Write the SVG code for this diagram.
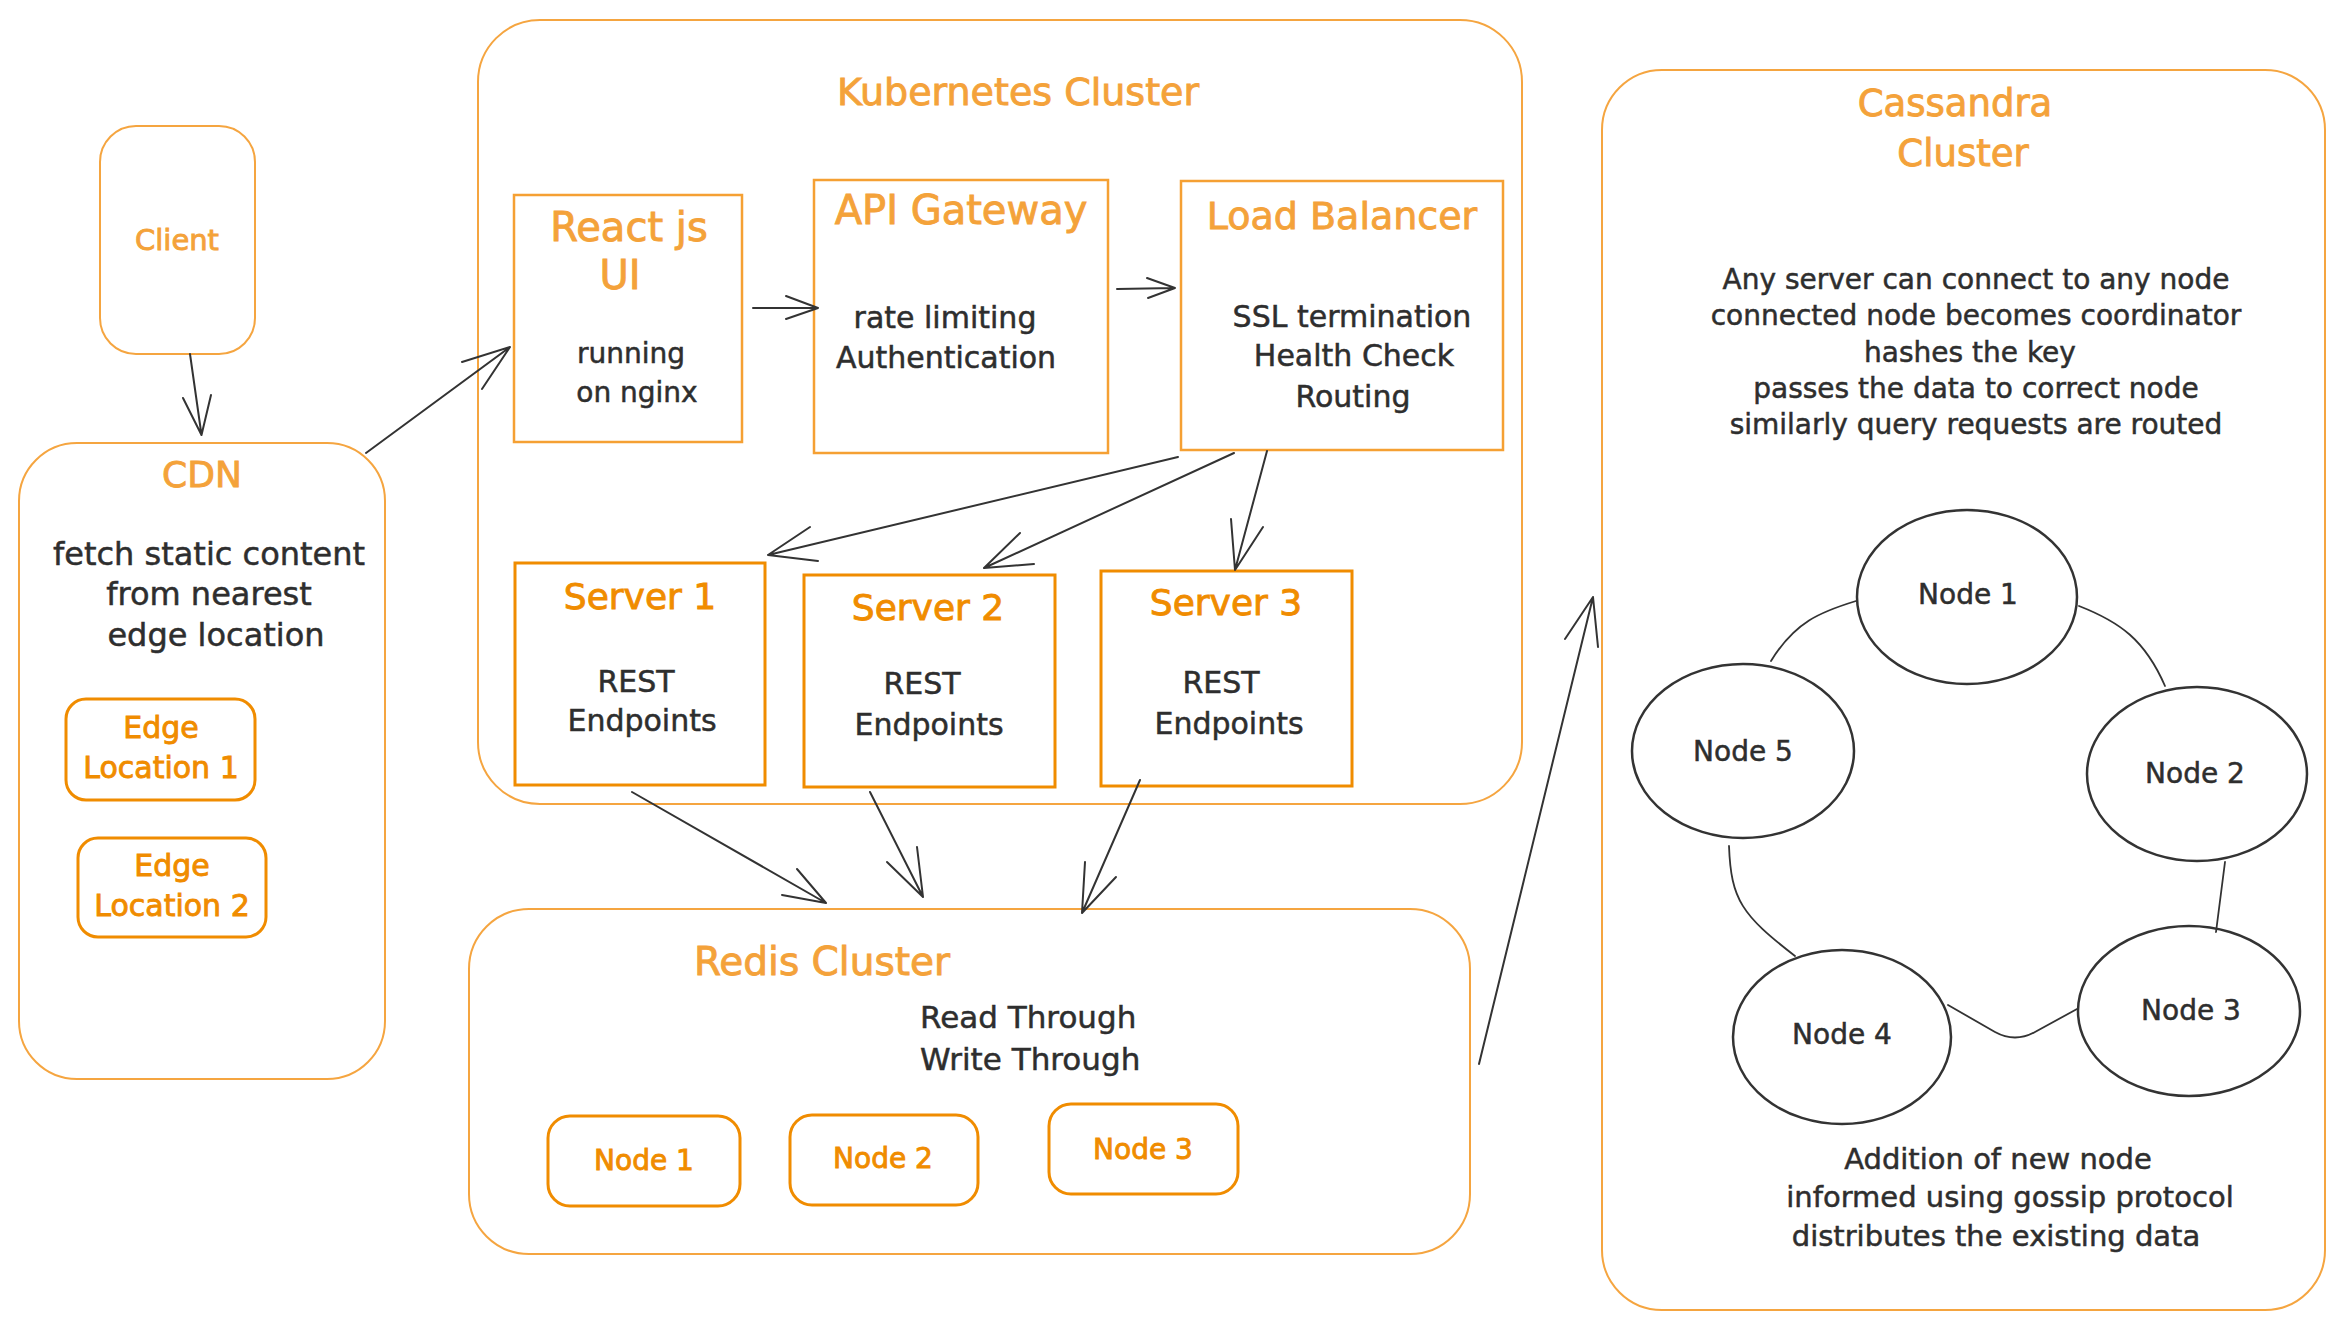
<svg xmlns="http://www.w3.org/2000/svg" width="2344" height="1328" viewBox="0 0 2344 1328">
<style>
  .bg{fill:#ffffff}
  .cont{fill:none;stroke:#f5a540;stroke-width:2}
  .box{fill:none;stroke:#f5a033;stroke-width:2.5}
  .dbox{fill:none;stroke:#f08c00;stroke-width:3}
  .ell{fill:none;stroke:#333333;stroke-width:2.5}
  .conn{fill:none;stroke:#333333;stroke-width:2;stroke-linecap:round;stroke-linejoin:round}
  .link{fill:none;stroke:#333333;stroke-width:1.8;stroke-linecap:round}
  text{font-family:"DejaVu Sans","Liberation Sans",sans-serif;text-anchor:middle}
  .lt{fill:#f4a23a;stroke:#f4a23a;stroke-width:0.9}
  .dt{fill:#f08c00;stroke:#f08c00;stroke-width:0.9}
  .bt{fill:#2e2e2e;stroke:#2e2e2e;stroke-width:0.5}
  .st{text-anchor:start}
</style>
<rect class="bg" x="0" y="0" width="2344" height="1328"/>

<g id="kubernetes-cluster">
  <rect class="cont" x="478" y="20" width="1044" height="784" rx="62"/>
  <text class="lt" x="1018" y="105" font-size="38">Kubernetes Cluster</text>
</g>

<g id="redis-cluster">
  <rect class="cont" x="469" y="909" width="1001" height="345" rx="60"/>
  <text class="lt" x="822" y="975" font-size="39">Redis Cluster</text>
  <text class="bt st" x="920" y="1028" font-size="31">Read Through</text>
  <text class="bt st" x="920" y="1070" font-size="31">Write Through</text>
</g>

<g id="cassandra-cluster">
  <rect class="cont" x="1602" y="70" width="723" height="1240" rx="60" stroke-width="2.5"/>
  <text class="lt" x="1955" y="116" font-size="37">Cassandra</text>
  <text class="lt" x="1963" y="166" font-size="37">Cluster</text>
  <text class="bt" x="1976" y="289" font-size="28">Any server can connect to any node</text>
  <text class="bt" x="1976" y="325" font-size="28">connected node becomes coordinator</text>
  <text class="bt" x="1970" y="362" font-size="28">hashes the key</text>
  <text class="bt" x="1976" y="398" font-size="28">passes the data to correct node</text>
  <text class="bt" x="1976" y="434" font-size="28">similarly query requests are routed</text>
  <text class="bt" x="1998" y="1169" font-size="29">Addition of new node</text>
  <text class="bt" x="2010" y="1207" font-size="29">informed using gossip protocol</text>
  <text class="bt" x="1996" y="1246" font-size="29">distributes the existing data</text>
</g>

<g id="client">
  <rect class="cont" x="100" y="126" width="155" height="228" rx="36"/>
  <text class="lt" x="177" y="250" font-size="29">Client</text>
</g>

<g id="cdn">
  <rect class="cont" x="19" y="443" width="366" height="636" rx="58" stroke-width="2.5"/>
  <text class="lt" x="202" y="487" font-size="36">CDN</text>
  <text class="bt" x="209" y="565" font-size="32">fetch static content</text>
  <text class="bt" x="209" y="605" font-size="32">from nearest</text>
  <text class="bt" x="216" y="646" font-size="32">edge location</text>
</g>

<g id="edge-location-1">
  <rect class="dbox" x="66" y="699" width="189" height="101" rx="20"/>
  <text class="dt" x="161" y="738" font-size="30">Edge</text>
  <text class="dt" x="161" y="778" font-size="30">Location 1</text>
</g>

<g id="edge-location-2">
  <rect class="dbox" x="78" y="838" width="188" height="99" rx="20"/>
  <text class="dt" x="172" y="876" font-size="30">Edge</text>
  <text class="dt" x="172" y="916" font-size="30">Location 2</text>
</g>

<g id="react-ui">
  <rect class="box" x="514" y="195" width="228" height="247"/>
  <text class="lt" x="629" y="241" font-size="40">React js</text>
  <text class="lt" x="620" y="289" font-size="40">UI</text>
  <text class="bt" x="631" y="363" font-size="28">running</text>
  <text class="bt" x="637" y="402" font-size="28">on nginx</text>
</g>

<g id="api-gateway">
  <rect class="box" x="814" y="180" width="294" height="273"/>
  <text class="lt" x="961" y="224" font-size="40">API Gateway</text>
  <text class="bt" x="945" y="328" font-size="30">rate limiting</text>
  <text class="bt" x="946" y="368" font-size="30">Authentication</text>
</g>

<g id="load-balancer">
  <rect class="box" x="1181" y="181" width="322" height="269"/>
  <text class="lt" x="1342" y="229" font-size="38">Load Balancer</text>
  <text class="bt" x="1352" y="327" font-size="30">SSL termination</text>
  <text class="bt" x="1354" y="366" font-size="30">Health Check</text>
  <text class="bt" x="1353" y="407" font-size="30">Routing</text>
</g>

<g id="server-1">
  <rect class="dbox" x="515" y="563" width="250" height="222"/>
  <text class="dt" x="640" y="609" font-size="36">Server 1</text>
  <text class="bt" x="636" y="692" font-size="30">REST</text>
  <text class="bt" x="642" y="731" font-size="30">Endpoints</text>
</g>

<g id="server-2">
  <rect class="dbox" x="804" y="575" width="251" height="212"/>
  <text class="dt" x="928" y="620" font-size="36">Server 2</text>
  <text class="bt" x="922" y="694" font-size="30">REST</text>
  <text class="bt" x="929" y="735" font-size="30">Endpoints</text>
</g>

<g id="server-3">
  <rect class="dbox" x="1101" y="571" width="251" height="215"/>
  <text class="dt" x="1226" y="615" font-size="36">Server 3</text>
  <text class="bt" x="1221" y="693" font-size="30">REST</text>
  <text class="bt" x="1229" y="734" font-size="30">Endpoints</text>
</g>

<g id="redis-node-1">
  <rect class="dbox" x="548" y="1116" width="192" height="90" rx="22"/>
  <text class="dt" x="644" y="1170" font-size="28">Node 1</text>
</g>
<g id="redis-node-2">
  <rect class="dbox" x="790" y="1115" width="188" height="90" rx="22"/>
  <text class="dt" x="883" y="1168" font-size="28">Node 2</text>
</g>
<g id="redis-node-3">
  <rect class="dbox" x="1049" y="1104" width="189" height="90" rx="22"/>
  <text class="dt" x="1143" y="1159" font-size="28">Node 3</text>
</g>

<g id="cassandra-node-1">
  <ellipse class="ell" cx="1967" cy="597" rx="110" ry="87"/>
  <text class="bt" x="1968" y="604" font-size="28">Node 1</text>
</g>
<g id="cassandra-node-2">
  <ellipse class="ell" cx="2197" cy="774" rx="110" ry="87"/>
  <text class="bt" x="2195" y="783" font-size="28">Node 2</text>
</g>
<g id="cassandra-node-3">
  <ellipse class="ell" cx="2189" cy="1011" rx="111" ry="85"/>
  <text class="bt" x="2191" y="1020" font-size="28">Node 3</text>
</g>
<g id="cassandra-node-4">
  <ellipse class="ell" cx="1842" cy="1037" rx="109" ry="87"/>
  <text class="bt" x="1842" y="1044" font-size="28">Node 4</text>
</g>
<g id="cassandra-node-5">
  <ellipse class="ell" cx="1743" cy="751" rx="111" ry="87"/>
  <text class="bt" x="1743" y="761" font-size="28">Node 5</text>
</g>

<g id="connectors">
  <path class="conn" d="M190 354 L201.5 435 M183 398 L201.5 435 L211 395"/>
  <path class="conn" d="M366 453 L510 347 M462 362 L510 347 L482 389"/>
  <path class="conn" d="M753 308 L818 308 M786 296 L818 308 L786 319"/>
  <path class="conn" d="M1117 289 L1175 288 M1147 278 L1175 288 L1148 298"/>
  <path class="conn" d="M1178 457 L768 555 M810 527 L768 555 L818 561"/>
  <path class="conn" d="M1234 453 L984 568 M1020 533 L984 568 L1034 564"/>
  <path class="conn" d="M1267 451 L1235 570 M1231 519 L1235 570 L1263 527"/>
  <path class="conn" d="M632 792 L826 903 M782 895 L826 903 L797 869"/>
  <path class="conn" d="M870 792 L923 897 M887 862 L923 897 L917 847"/>
  <path class="conn" d="M1140 780 L1082 913 M1085 862 L1082 913 L1116 877"/>
  <path class="conn" d="M1479 1064 L1593 597 M1565 639 L1593 597 L1598 647"/>
  <path class="link" d="M1856 601 C1820 612 1795 622 1771 661"/>
  <path class="link" d="M2079 606 C2120 622 2145 640 2165 686"/>
  <path class="link" d="M1729 846 C1731 900 1742 915 1795 956"/>
  <path class="link" d="M2225 862 L2216 932"/>
  <path class="link" d="M1948 1005 L1995 1032 Q2015 1043 2035 1032 L2077 1009"/>
</g>
</svg>
